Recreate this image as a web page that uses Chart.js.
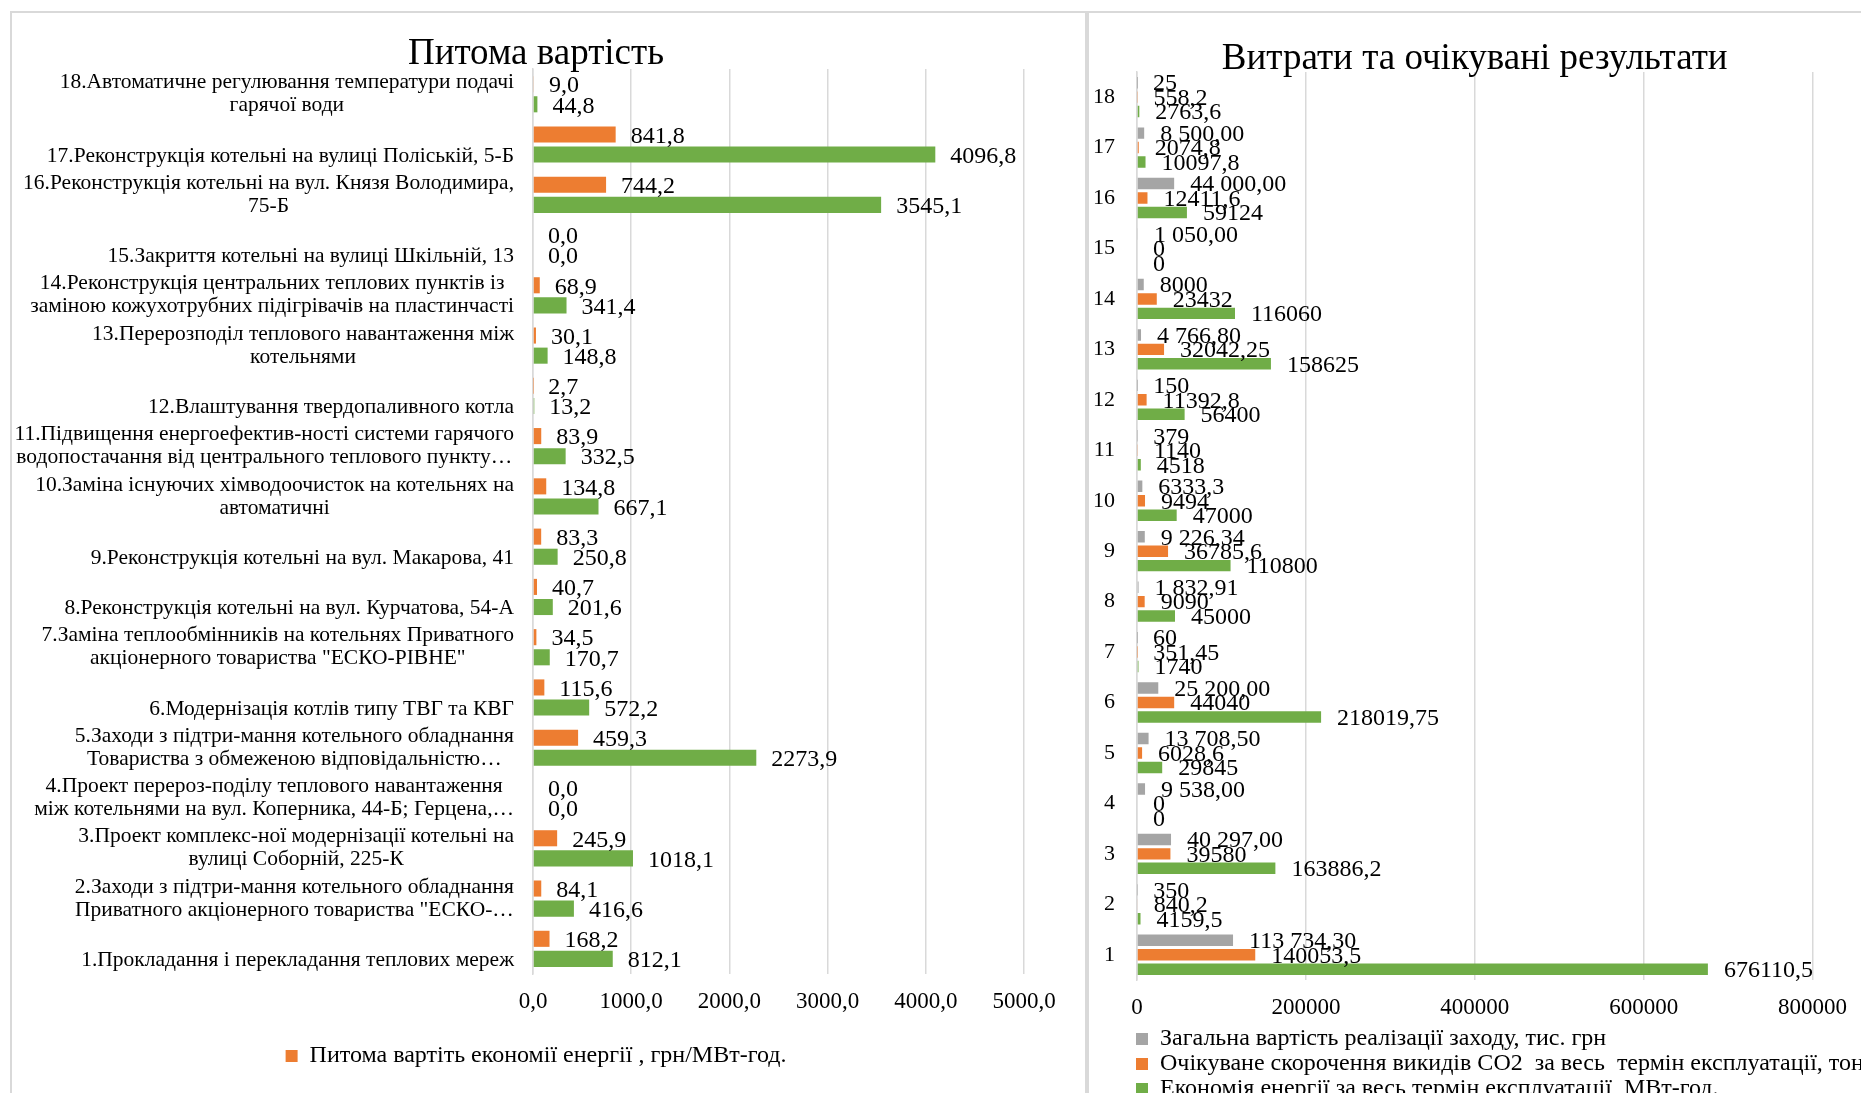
<!DOCTYPE html>
<html lang="uk">
<head>
<meta charset="utf-8">
<title>Питома вартість / Витрати та очікувані результати</title>
<script src="https://cdn.jsdelivr.net/npm/chart.js@4.4.1/dist/chart.umd.min.js"></script>
<style>
  html, body { margin: 0; padding: 0; background: #fff; overflow: hidden; }
  #page { position: relative; width: 1861px; height: 1093px; overflow: hidden; background: #fff; }
  .box { position: absolute; top: 0; }
  .rule { position: absolute; background: #d9d9d9; }
</style>
</head>
<body>
<div id="page">
  <div class="box" style="left:12px"><canvas id="costChart" width="1072" height="1093"></canvas></div>
  <div class="box" style="left:1089px"><canvas id="resultsChart" width="772" height="1111"></canvas></div>
  <div class="rule" style="left:10px; top:11px; width:1851px; height:2px"></div>
  <div class="rule" style="left:10px; top:11px; width:2px; height:1082px"></div>
  <div class="rule" style="left:1085px; top:11px; width:4px; height:1082px"></div>
</div>
<script>
// measures 1..18 (left chart, names as printed on the axis)
const measureNames = [
    ['', '1.Прокладання і перекладання теплових мереж'],
    ['2.Заходи з підтри-мання котельного обладнання', 'Приватного акціонерного товариства "ЕСКО-…'],
    ['3.Проект комплекс-ної модернізації котельні на', 'вулиці Соборній, 225-К'],
    ['4.Проект перероз-поділу теплового навантаження', 'між котельнями на вул. Коперника, 44-Б; Герцена,…'],
    ['5.Заходи з підтри-мання котельного обладнання', 'Товариства з обмеженою відповідальністю…'],
    ['', '6.Модернізація котлів типу ТВГ та КВГ'],
    ['7.Заміна теплообмінників на котельнях Приватного', 'акціонерного товариства "ЕСКО-РІВНЕ"'],
    ['', '8.Реконструкція котельні на вул. Курчатова, 54-А'],
    ['', '9.Реконструкція котельні на вул. Макарова, 41'],
    ['10.Заміна існуючих хімводоочисток на котельнях на', 'автоматичні'],
    ['11.Підвищення енергоефектив-ності системи гарячого', 'водопостачання від центрального теплового пункту…'],
    ['', '12.Влаштування твердопаливного котла'],
    ['13.Перерозподіл теплового навантаження між', 'котельнями'],
    ['14.Реконструкція центральних теплових пунктів із', 'заміною кожухотрубних підігрівачів на пластинчасті'],
    ['', '15.Закриття котельні на вулиці Шкільній, 13'],
    ['16.Реконструкція котельні на вул. Князя Володимира,', '75-Б'],
    ['', '17.Реконструкція котельні на вулиці Поліській, 5-Б'],
    ['18.Автоматичне регулювання температури подачі', 'гарячої води']
];
const measureNumbers = ['1', '2', '3', '4', '5', '6', '7', '8', '9', '10', '11', '12', '13', '14', '15', '16', '17', '18'];

// left chart
const specificCost = [168.2, 84.1, 245.9, 0.0, 459.3, 115.6, 34.5, 40.7, 83.3, 134.8, 83.9, 2.7, 30.1, 68.9, 0.0, 744.2, 841.8, 9.0];
const specificCost2 = [812.1, 416.6, 1018.1, 0.0, 2273.9, 572.2, 170.7, 201.6, 250.8, 667.1, 332.5, 13.2, 148.8, 341.4, 0.0, 3545.1, 4096.8, 44.8];
const specificCostName = 'Питома вартіть економії енергії , грн/МВт-год.';

// right chart
const totalCost = [113734.30, 350, 40297.00, 9538.00, 13708.50, 25200.00, 60, 1832.91, 9226.34, 6333.3, 379, 150, 4766.80, 8000, 1050.00, 44000.00, 8500.00, 25];
const totalCostText = ['113 734,30', '350', '40 297,00', '9 538,00', '13 708,50', '25 200,00', '60', '1 832,91', '9 226,34', '6333,3', '379', '150', '4 766,80', '8000', '1 050,00', '44 000,00', '8 500,00', '25'];
const co2Reduction = [140053.5, 840.2, 39580, 0, 6028.6, 44040, 351.45, 9090, 36785.6, 9494, 1140, 11392.8, 32042.25, 23432, 0, 12411.6, 2074.8, 558.2];
const energySaving = [676110.5, 4159.5, 163886.2, 0, 29845, 218019.75, 1740, 45000, 110800, 47000, 4518, 56400, 158625, 116060, 0, 59124, 10097.8, 2763.6];

const ORANGE = '#ED7D31';
const GREEN = '#70AD47';
const GRAY = '#A5A5A5';
const GRID = '#d9d9d9';
const SERIF = '"Liberation Serif", "Times New Roman", serif';

Chart.defaults.font.family = SERIF;
Chart.defaults.color = '#000';

// Excel lists item 18 at the top
const topDown = arr => arr.slice().reverse();
const comma = v => String(v).replace('.', ',');

// value labels at the end of each bar
const valueLabels = {
    id: 'valueLabels',
    afterDatasetsDraw(chart, args, opts) {
        const ctx = chart.ctx;
        ctx.save();
        ctx.font = opts.size + 'px ' + SERIF;
        ctx.fillStyle = '#000';
        ctx.textAlign = 'left';
        ctx.textBaseline = 'middle';
        chart.data.datasets.forEach((ds, i) => {
            chart.getDatasetMeta(i).data.forEach((bar, j) => {
                const text = ds.valueText ? ds.valueText[j] : opts.format(ds.data[j]);
                ctx.fillText(text, bar.x + opts.offset, bar.y + opts.dy);
            });
        });
        ctx.restore();
    }
};

// category names: block right aligned, lines centred inside the block
// (drawn here because the axis clips its labels to its own narrow box)
const blockLabels = {
    id: 'blockLabels',
    afterDraw(chart, args, opts) {
        const scale = chart.scales.y;
        const ctx = chart.ctx;
        ctx.save();
        ctx.font = opts.size + 'px ' + SERIF;
        ctx.fillStyle = '#000';
        ctx.textAlign = 'center';
        ctx.textBaseline = 'middle';
        const right = scale.right - opts.gap;
        chart.data.labels.forEach((label, i) => {
            const lines = [].concat(label);
            const w = Math.max(...lines.map(l => ctx.measureText(l).width));
            const cy = scale.getPixelForValue(i);
            lines.forEach((l, k) => {
                ctx.fillText(l, right - w / 2, cy + (k - (lines.length - 1) / 2) * opts.lineHeight);
            });
        });
        ctx.restore();
    }
};

new Chart(document.getElementById('costChart'), {
    type: 'bar',
    data: {
        labels: topDown(measureNames),
        datasets: [
            { label: specificCostName, data: topDown(specificCost), backgroundColor: ORANGE,
              barPercentage: 0.8, categoryPercentage: 0.8 },
            { label: '', data: topDown(specificCost2), backgroundColor: GREEN,
              barPercentage: 0.8, categoryPercentage: 0.8 }
        ]
    },
    options: {
        indexAxis: 'y',
        responsive: false,
        animation: false,
        events: [],
        layout: { padding: { left: 0, right: 24, top: 0, bottom: 15 } },
        scales: {
            x: {
                min: 0, max: 5000,
                grid: { color: GRID, lineWidth: 1.5, drawTicks: false },
                border: { display: false },
                ticks: { stepSize: 1000, padding: 14, font: { size: 23 },
                         callback: v => v.toFixed(1).replace('.', ',') },
                afterFit: s => { s.height = 60; }
            },
            y: {
                grid: { display: false },
                border: { color: GRID, width: 1.5 },
                ticks: { display: false },
                afterFit: s => { s.width = 521; }
            },
            yRight: {
                type: 'linear', position: 'right',
                grid: { display: false }, border: { display: false }, ticks: { display: false },
                afterFit: s => { s.width = 36; }
            }
        },
        plugins: {
            title: { display: true, text: 'Питома вартість', color: '#000',
                     font: { size: 37, weight: 'normal', lineHeight: 0.8 },
                     padding: { top: 39.5, bottom: 0 } },
            legend: {
                position: 'bottom',
                labels: { font: { size: 24 }, boxWidth: 12, boxHeight: 12, padding: 10,
                          filter: item => item.text !== '' }
            },
            tooltip: { enabled: false },
            valueLabels: { size: 24, offset: 15, dy: 2, format: v => v.toFixed(1).replace('.', ',') },
            blockLabels: { size: 21.5, lineHeight: 23, gap: 19 }
        }
    },
    plugins: [valueLabels, blockLabels]
});

new Chart(document.getElementById('resultsChart'), {
    type: 'bar',
    data: {
        labels: topDown(measureNumbers),
        datasets: [
            { label: 'Загальна вартість реалізації заходу, тис. грн', data: topDown(totalCost),
              valueText: topDown(totalCostText), backgroundColor: GRAY,
              barPercentage: 0.79, categoryPercentage: 0.86 },
            { label: 'Очікуване скорочення викидів СО2  за весь  термін експлуатації, тонн',
              data: topDown(co2Reduction), backgroundColor: ORANGE,
              barPercentage: 0.79, categoryPercentage: 0.86 },
            { label: 'Економія енергії за весь термін експлуатації, МВт-год.', data: topDown(energySaving),
              backgroundColor: GREEN, barPercentage: 0.79, categoryPercentage: 0.86 }
        ]
    },
    options: {
        indexAxis: 'y',
        responsive: false,
        animation: false,
        events: [],
        layout: { padding: { left: 46, right: 0, top: 0, bottom: 0 } },
        scales: {
            x: {
                min: 0, max: 800000,
                grid: { color: GRID, lineWidth: 1.5, drawTicks: false },
                border: { display: false },
                ticks: { stepSize: 200000, padding: 14, font: { size: 23 }, callback: v => String(v) },
                afterFit: s => { s.height = 46; }
            },
            y: {
                grid: { display: false },
                border: { color: GRID, width: 1.5 },
                ticks: { display: false },
                afterFit: s => { s.width = 2; }
            },
            yRight: {
                type: 'linear', position: 'right',
                grid: { display: false }, border: { display: false }, ticks: { display: false },
                afterFit: s => { s.width = 47; }
            }
        },
        plugins: {
            title: { display: true, fullSize: false, text: 'Витрати та очікувані результати', color: '#000',
                     font: { size: 37, weight: 'normal', lineHeight: 0.7 },
                     padding: { top: 46, bottom: 0 } },
            legend: {
                position: 'bottom', align: 'start',
                labels: { font: { size: 24 }, boxWidth: 12, boxHeight: 12, padding: 1 }
            },
            tooltip: { enabled: false },
            valueLabels: { size: 24, offset: 16, dy: 1.5, format: comma },
            blockLabels: { size: 22, lineHeight: 26, gap: 22 }
        }
    },
    plugins: [valueLabels, blockLabels]
});
</script>
</body>
</html>
